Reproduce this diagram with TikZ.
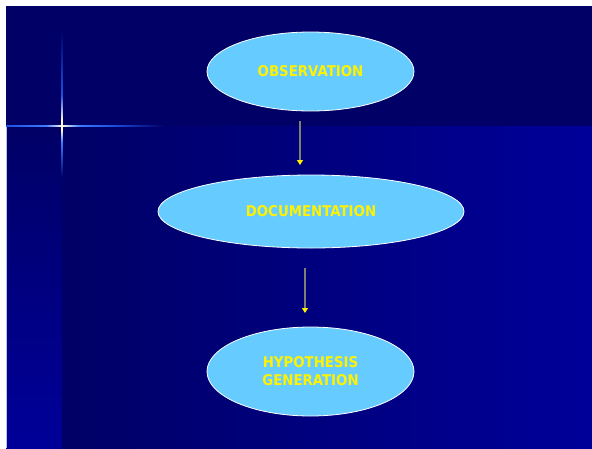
\documentclass[tikz,border=0pt]{standalone}
\usepackage{fontspec}
\setmainfont{DejaVu Sans}[FakeStretch=0.9]
\usetikzlibrary{shapes.geometric,arrows.meta}
\definecolor{navy}{HTML}{000066}
\definecolor{royal}{HTML}{000099}
\definecolor{bubble}{HTML}{66CCFF}
\definecolor{flare}{HTML}{3D7BFF}
\definecolor{flaredim}{HTML}{1E50E0}
\definecolor{core}{HTML}{FFFBE6}
\definecolor{shaft}{HTML}{808070}
\tikzset{
  bubblenode/.style={ellipse, draw=white, line width=0.8pt, fill=bubble, inner sep=0pt,
    text=yellow, font=\fontsize{14.8}{18}\selectfont\bfseries, align=center},
  flow/.style={draw=shaft, line width=1.3pt,
    -{Triangle[color=yellow, fill=yellow, width=6pt, length=5pt]}}
}
\begin{document}
\begin{tikzpicture}[x=1pt,y=-1pt]
\useasboundingbox (0,0) rectangle (592,448);
\fill[white] (0,0) rectangle (592,448);
% background
\fill[navy] (6,6) rectangle (592,126);
\shade[top color=navy, bottom color=royal] (6,126) rectangle (62,448);
\shade[left color=navy, right color=royal] (62,126) rectangle (592,448);
\draw[color=white!75!royal, line width=0.8pt] (6.4,126) -- (6.4,448);
% flare horizontal
\shade[left color=flaredim, right color=flare] (6,125.2) rectangle (46,126.8);
\shade[left color=flare, right color=core] (46,125.2) rectangle (62,126.8);
\shade[left color=core, right color=flare] (62,125.2) rectangle (80,126.8);
\shade[left color=flare, right color=flaredim] (80,125.2) rectangle (112,126.8);
\shade[left color=flaredim, right color=navy] (112,125.2) rectangle (165,126.8);
% flare vertical
\shade[top color=navy, bottom color=flaredim] (61.2,30) rectangle (62.8,95);
\shade[top color=flaredim, bottom color=core] (61.2,95) rectangle (62.8,120);
\fill[core] (61.2,120) rectangle (62.8,130);
\shade[top color=core, bottom color=flare] (61.2,130) rectangle (62.8,142);
\shade[top color=flare, bottom color=navy] (61.2,142) rectangle (62.8,178);
% nodes
\node[bubblenode, minimum width=207pt, minimum height=79pt] (obs) at (310.5,71.5) {OBSERVATION};
\node[bubblenode, minimum width=306pt, minimum height=73pt] (doc) at (311,211.5) {DOCUMENTATION};
\node[bubblenode, minimum width=207pt, minimum height=89pt] (hyp) at (310.5,371.5) {HYPOTHESIS\\GENERATION};
% connectors
\coordinate (a1s) at (300,121);
\coordinate (a1e) at (300,165);
\coordinate (a2s) at (305,268);
\coordinate (a2e) at (305,313);
\draw[flow] (a1s) -- (a1e);
\draw[flow] (a2s) -- (a2e);
\end{tikzpicture}
\end{document}
